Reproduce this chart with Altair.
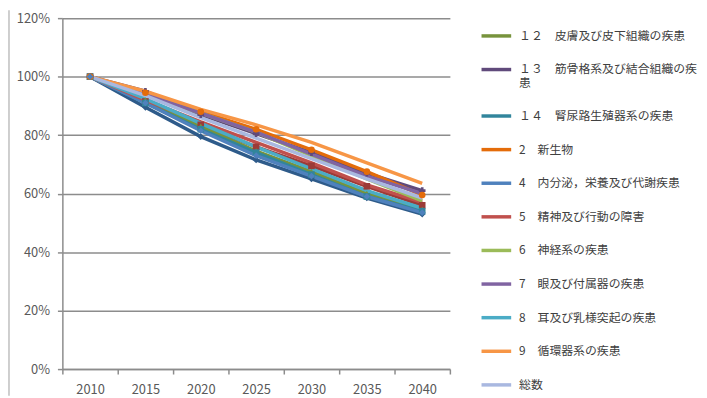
import altair as alt
import pandas as pd

years = ["2010", "2015", "2020", "2025", "2030", "2035", "2040"]

series_names = [
    "１０　呼吸器系の疾患",
    "１１　消化器系の疾患",
    "１２　皮膚及び皮下組織の疾患",
    "１３　筋骨格系及び結合組織の疾患",
    "１４　腎尿路生殖器系の疾患",
    "2　新生物",
    "4　内分泌，栄養及び代謝疾患",
    "5　精神及び行動の障害",
    "6　神経系の疾患",
    "7　眼及び付属器の疾患",
    "8　耳及び乳様突起の疾患",
    "9　循環器系の疾患",
    "総数",
]

series_colors = [
    "#2E5B8A", "#9B3B38", "#77933C", "#604A7B", "#31859C", "#E46C0A",
    "#4F81BD", "#C0504D", "#9BBB59", "#8064A2", "#4BACC6", "#F79646", "#A9B8E0",
]

series_values = [
    [1.00, 0.895, 0.795, 0.715, 0.650, 0.585, 0.530],
    [1.00, 0.915, 0.835, 0.760, 0.695, 0.625, 0.560],
    [1.00, 0.920, 0.830, 0.745, 0.675, 0.600, 0.545],
    [1.00, 0.950, 0.870, 0.805, 0.740, 0.670, 0.610],
    [1.00, 0.910, 0.820, 0.740, 0.665, 0.590, 0.540],
    [1.00, 0.945, 0.880, 0.820, 0.750, 0.675, 0.595],
    [1.00, 0.910, 0.815, 0.730, 0.660, 0.590, 0.535],
    [1.00, 0.920, 0.845, 0.775, 0.705, 0.630, 0.570],
    [1.00, 0.940, 0.875, 0.810, 0.730, 0.650, 0.575],
    [1.00, 0.940, 0.875, 0.810, 0.735, 0.660, 0.600],
    [1.00, 0.925, 0.840, 0.760, 0.685, 0.610, 0.550],
    [1.00, 0.950, 0.888, 0.835, 0.775, 0.705, 0.635],
    [1.00, 0.935, 0.860, 0.790, 0.720, 0.650, 0.585],
]

# marker shapes for the series that show markers ("" = no marker)
series_markers = [
    "diamond", "square", "triangle-up", "cross", "square", "circle", "diamond",
    "", "", "", "", "", "",
]

legend_names = series_names[1:]

rows = []
for name, color, vals, marker in zip(series_names, series_colors, series_values, series_markers):
    for yr, v in zip(years, vals):
        rows.append({"year": yr, "series": name, "value": v, "hex": color, "marker": marker})
df = pd.DataFrame(rows)

FONT = "Noto Sans CJK JP"
GRID = "#8C8C8C"

x_enc = alt.X(
    "year:O",
    scale=alt.Scale(domain=years, paddingInner=0, paddingOuter=0),
    axis=alt.Axis(
        title=None, labelAngle=0, tickBand="extent", grid=False,
        domainColor=GRID, domainWidth=1.5, tickColor=GRID, tickWidth=1.5, tickSize=5,
        labelColor="#595959", labelFontSize=13, labelFont=FONT, labelPadding=10,
    ),
)
y_enc = alt.Y(
    "value:Q",
    scale=alt.Scale(domain=[0, 1.2], nice=False, zero=True),
    axis=alt.Axis(
        title=None, values=[0, 0.2, 0.4, 0.6, 0.8, 1.0, 1.2], format=".0%",
        grid=True, gridColor=GRID, gridWidth=1.5,
        domainColor=GRID, domainWidth=1.5, tickColor=GRID, tickWidth=1.5, tickSize=5,
        labelColor="#595959", labelFontSize=13, labelFont=FONT, labelPadding=8,
    ),
)

wrap_expr = (
    "datum.label == '１３　筋骨格系及び結合組織の疾患' ? "
    "['１３　筋骨格系及び結合組織の疾', '患'] : datum.label"
)

lines = alt.Chart(df).mark_line(strokeWidth=3.5).encode(
    x=x_enc,
    y=y_enc,
    color=alt.Color(
        "series:N",
        sort=series_names,
        scale=alt.Scale(domain=series_names, range=series_colors),
        legend=alt.Legend(
            title=None, values=legend_names, orient="none", legendX=422, legendY=-33,
            symbolType="stroke", symbolSize=900, symbolStrokeWidth=3.5,
            labelFont=FONT, labelFontSize=12, labelColor="#404040",
            labelLimit=400, labelOffset=6, rowPadding=10, padding=0,
            labelExpr=wrap_expr,
        ),
    ),
    order=alt.Order("year:O"),
)

points = alt.Chart(df).transform_filter("datum.marker != ''").mark_point(
    filled=True, size=45, opacity=1
).encode(
    x=alt.X("year:O", scale=alt.Scale(domain=years, paddingInner=0, paddingOuter=0)),
    y=alt.Y("value:Q"),
    color=alt.Color("hex:N", scale=None),
    shape=alt.Shape("marker:N", scale=None),
)

border = alt.Chart(pd.DataFrame({"k": [0]})).mark_rule(color="#BFBFBF", strokeWidth=1.5).encode(
    x=alt.value(-54), y=alt.value(-8), y2=alt.value(382)
)

chart = alt.layer(lines, points, border).properties(
    width=392, height=355,
    autosize=alt.AutoSizeParams(type="none"),
    padding={"left": 55, "top": 8, "right": 252, "bottom": 27},
).configure_view(stroke=None)

chart.save("out.html", embed_options={"renderer": "svg", "actions": False})
